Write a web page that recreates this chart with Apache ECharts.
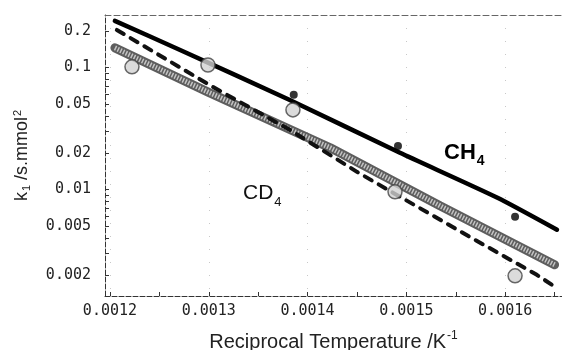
<!DOCTYPE html>
<html>
<head>
<meta charset="utf-8">
<script src="https://cdn.jsdelivr.net/npm/echarts@6/dist/echarts.min.js"></script>
<style>
  html, body { margin: 0; padding: 0; background: #fff; }
  #chart { width: 562px; height: 350px; }
</style>
</head>
<body>
<div id="chart"></div>
<script>
// ---- data ----
const xTickLabels = [0.0012, 0.0013, 0.0014, 0.0015, 0.0016];
const xTicks = [0.0012, 0.00125, 0.0013, 0.00135, 0.0014, 0.00145, 0.0015, 0.00155, 0.0016, 0.00165];
const yTickLabels = [0.2, 0.1, 0.05, 0.02, 0.01, 0.005, 0.002];
const yTicks = [0.002, 0.003, 0.004, 0.005, 0.006, 0.007, 0.008, 0.009,
                0.01, 0.02, 0.03, 0.04, 0.05, 0.06, 0.07, 0.08, 0.09, 0.1, 0.2];

// CH4 fitted line (solid)
const ch4LineX = [0.001205, 0.001271, 0.001382, 0.0014935, 0.0015917, 0.0016524];
const ch4LineY = [0.2415, 0.1396, 0.0543, 0.0200, 0.00860, 0.00468];

// CD4 fitted line (dashed)
const cd4LineX = [0.001207, 0.001304, 0.001382, 0.001450, 0.001485, 0.001564, 0.001632, 0.001647];
const cd4LineY = [0.2037, 0.0695, 0.0309, 0.01397, 0.00957, 0.0041, 0.0020, 0.00166];

// hatched band
const bandX = [0.001205, 0.001301, 0.001423, 0.001534, 0.001650];
const bandY = [0.1452, 0.0621, 0.0220, 0.00736, 0.00242];

// CH4 measured points (filled dots)
const ch4PtsX = [0.001386, 0.0014915, 0.00161];
const ch4PtsY = [0.0598, 0.0228, 0.00597];

// CD4 measured points (open circles)
const cd4PtsX = [0.0012223, 0.0012992, 0.0013852, 0.0014885, 0.00161];
const cd4PtsY = [0.1014, 0.105, 0.045, 0.00958, 0.00196];

const zip = (xs, ys) => xs.map((x, i) => [x, ys[i]]);

const chart = echarts.init(document.getElementById('chart'), null, { renderer: 'canvas' });

const xMin = 0.001195, xMax = 0.0016575;
const sans = '"Liberation Sans", Arial, sans-serif';
const mono = '"DejaVu Sans Mono", monospace';

const option = {
  animation: false,
  backgroundColor: '#ffffff',
  grid: { left: 105, right: 0, top: 15, bottom: 54, containLabel: false, outerBoundsMode: 'none' },
  xAxis: [{
    type: 'value', min: xMin, max: xMax, position: 'bottom',
    axisLine: { show: true, onZero: false, lineStyle: { color: '#333', width: 1, type: [5, 2] } },
    axisTick: { show: true, inside: true, length: 4, customValues: xTicks, lineStyle: { color: '#333' } },
    axisLabel: {
      customValues: xTickLabels, margin: 8,
      fontFamily: mono, fontSize: 15, color: '#222',
      formatter: v => Number(v.toPrecision(3)).toString()
    },
    splitLine: { show: false },
    name: 'Reciprocal Temperature /K{sup|-1}',
    nameLocation: 'middle', nameGap: 34,
    nameTextStyle: {
      fontFamily: sans, fontSize: 20, color: '#222',
      rich: { sup: { fontFamily: sans, fontSize: 12, color: '#222', padding: [0, 0, 12, 1] } }
    }
  }, {
    type: 'value', min: xMin, max: xMax, position: 'top',
    axisLine: { show: true, onZero: false, lineStyle: { color: '#666', width: 1, type: [6, 3] } },
    axisTick: { show: false, customValues: xTickLabels },
    axisLabel: { show: false, customValues: xTickLabels },
    splitLine: { show: true, lineStyle: { color: '#c8c8c8', width: 1, type: [1, 12] } }
  }],
  yAxis: {
    type: 'log', logBase: 10, min: 0.00134, max: 0.27,
    axisLine: { show: true, onZero: false, lineStyle: { color: '#333', width: 1, type: [5, 2] } },
    axisTick: { show: true, inside: true, length: 4, customValues: yTicks, lineStyle: { color: '#333' } },
    axisLabel: {
      customValues: yTickLabels, margin: 14,
      fontFamily: mono, fontSize: 15, color: '#222',
      formatter: v => Number(v.toPrecision(3)).toString()
    },
    splitLine: { show: false },
    minorTick: { show: false },
    name: 'k{sub|1} /s.mmol{sup|2}',
    nameLocation: 'middle', nameGap: 72, nameRotate: 90,
    nameTextStyle: {
      fontFamily: sans, fontSize: 18, color: '#222',
      rich: {
        sub: { fontFamily: sans, fontSize: 11, color: '#222', padding: [8, 0, 0, 1] },
        sup: { fontFamily: sans, fontSize: 11, color: '#222', padding: [0, 0, 10, 1] }
      }
    }
  },
  series: [
    {
      name: 'band-outer', type: 'line', data: zip(bandX, bandY), showSymbol: false, silent: true,
      lineStyle: { color: '#5e5e5e', width: 9, cap: 'round' }, z: 2
    },
    {
      name: 'band-inner', type: 'line', data: zip(bandX, bandY), showSymbol: false, silent: true,
      lineStyle: { color: '#c4c4c4', width: 5, type: [1.5, 1.5] }, z: 3
    },
    {
      name: 'CD4 fit', type: 'line', data: zip(cd4LineX, cd4LineY), showSymbol: false, silent: true,
      lineStyle: { color: '#111', width: 4, type: [8, 8], cap: 'round' }, z: 4
    },
    {
      name: 'CH4 fit', type: 'line', data: zip(ch4LineX, ch4LineY), showSymbol: false, silent: true,
      smooth: 0.2,
      lineStyle: { color: '#000', width: 4.5, cap: 'round', join: 'round' }, z: 5
    },
    {
      name: 'CD4', type: 'scatter', data: zip(cd4PtsX, cd4PtsY), symbol: 'circle', symbolSize: 14,
      itemStyle: { color: '#d2d2d2', borderColor: '#444', borderWidth: 1.5 }, z: 6
    },
    {
      name: 'CH4', type: 'scatter', data: zip(ch4PtsX, ch4PtsY), symbol: 'circle', symbolSize: 8,
      itemStyle: { color: '#000' }, z: 7
    }
  ],
  graphic: [
    {
      type: 'text', left: 444, top: 142, z: 10,
      style: {
        text: '{a|CH}{b|4}', fill: '#000',
        rich: {
          a: { fontFamily: sans, fontSize: 22, fontWeight: 'bold', fill: '#000' },
          b: { fontFamily: sans, fontSize: 14, fontWeight: 'bold', fill: '#000', padding: [17, 0, 0, 1] }
        }
      }
    },
    {
      type: 'text', left: 243, top: 183, z: 10,
      style: {
        text: '{a|CD}{b|4}', fill: '#111',
        rich: {
          a: { fontFamily: sans, fontSize: 21, fill: '#111' },
          b: { fontFamily: sans, fontSize: 13, fill: '#111', padding: [17, 0, 0, 1] }
        }
      }
    }
  ]
};

chart.setOption(option);
</script>
</body>
</html>
